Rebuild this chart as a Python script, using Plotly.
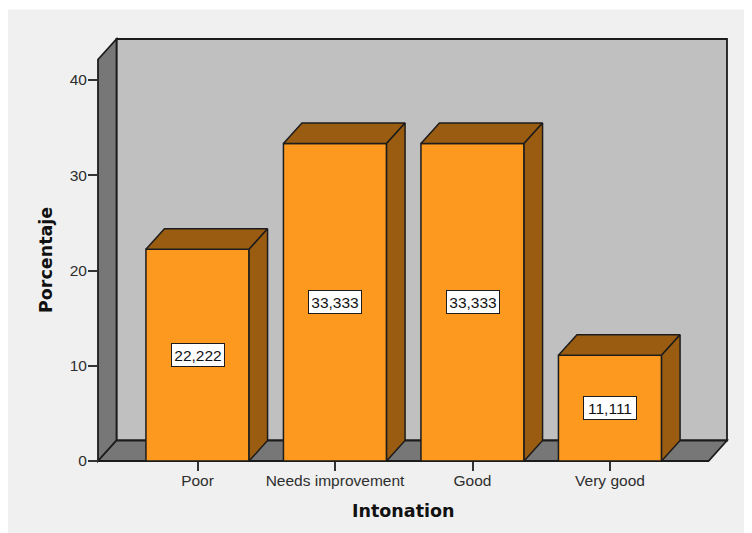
import plotly.graph_objects as go

categories = ["Poor", "Needs improvement", "Good", "Very good"]
percentages = [22.222, 33.333, 33.333, 11.111]
y_ticks = [0, 10, 20, 30, 40]
x_title = "Intonation"
y_title = "Porcentaje"

OFF = 8                          # page margin of the browser body
W, H = 752 - OFF, 533 - OFF
PAD = 3
X0_PX, X1_PX = 98 - OFF, 727 - OFF
Y0_PX, Y1_PX = 461 - OFF, 39 - OFF
UX, UY = 137.5, 9.525            # px per category / per percent
CX_PX = 197.5 - OFF
BAR_W = 0.75
DX, DY = 18.5 / UX, 20.5 / UY    # depth offset in data units
FONT = "Liberation Sans"
INK = "#2e2e2e"
EDGE = "#1c1c1c"

xmin = (X0_PX - CX_PX) / UX
xmax = (X1_PX - CX_PX) / UX
ymax = (Y0_PX - Y1_PX) / UY
x = list(range(len(categories)))

fig = go.Figure()

def poly(px, py, fill, lw=1.6):
    path = "M " + " L ".join(f"{a},{b}" for a, b in zip(px, py)) + " Z"
    return dict(type="path", path=path, xref="x", yref="y", layer="below",
                fillcolor=fill, line=dict(color=EDGE, width=lw))

shapes = [dict(type="rect", xref="paper", yref="paper", x0=0, x1=1, y0=0, y1=1 - 1.5 / H,
               fillcolor="#f0f0f0", line=dict(width=0), layer="below")]
shapes.append(poly([xmin + DX, xmax, xmax, xmin + DX], [DY, DY, ymax, ymax], "#c0c0c0", 1.8))
shapes.append(poly([xmin, xmin + DX, xmin + DX, xmin], [0, DY, ymax, ymax - DY], "#777777", 1.8))
shapes.append(poly([xmin, xmin + DX, xmax, xmax - DX], [0, DY, DY, 0], "#777777", 1.8))

fig.add_trace(go.Bar(x=x, y=percentages, width=BAR_W, marker=dict(color="#fc991e", line=dict(color=EDGE, width=1.5)),
                     hoverinfo="skip", showlegend=False))

for i, v in zip(x, percentages):
    l, r = i - BAR_W / 2, i + BAR_W / 2
    fig.add_trace(go.Scatter(x=[l, l + DX, r + DX, r, l], y=[v, v + DY, v + DY, v, v], mode="lines",
                             fill="toself", fillcolor="#9a5c10", line=dict(color=EDGE, width=1.5),
                             hoverinfo="skip", showlegend=False))
    fig.add_trace(go.Scatter(x=[r, r + DX, r + DX, r, r], y=[v, v + DY, DY, 0, v], mode="lines",
                             fill="toself", fillcolor="#9a5c10", line=dict(color=EDGE, width=1.5),
                             hoverinfo="skip", showlegend=False))

annotations = [
    dict(x=i, y=v / 2, xref="x", yref="y", text=f"{v:.3f}".replace(".", ","), showarrow=False,
         bgcolor="white", bordercolor=EDGE, borderwidth=1, width=52, height=22, borderpad=0,
         font=dict(family=FONT, size=15.5, color="#111111"))
    for i, v in zip(x, percentages)
]
annotations.append(dict(x=(403 - OFF) / W, y=1 - (511 - OFF) / H, xref="paper", yref="paper", text=f"<b>{x_title}</b>",
                        xanchor="center", yanchor="middle", showarrow=False,
                        font=dict(family="DejaVu Sans", size=17.5, color="#111111")))
annotations.append(dict(x=(46 - OFF) / W, y=1 - (260 - OFF) / H, xref="paper", yref="paper", text=f"<b>{y_title}</b>",
                        xanchor="center", yanchor="middle", textangle=-90, showarrow=False,
                        font=dict(family="DejaVu Sans", size=17.5, color="#111111")))

fig.update_layout(
    width=W, height=H, margin=dict(l=0, r=0, t=0, b=0), paper_bgcolor="white", plot_bgcolor="rgba(0,0,0,0)",
    shapes=shapes, annotations=annotations, showlegend=False, barmode="overlay",
    xaxis=dict(domain=[(X0_PX - PAD) / W, (X1_PX + PAD) / W], range=[xmin - PAD / UX, xmax + PAD / UX],
               anchor="free", position=1 - Y0_PX / H, tickvals=x, ticktext=categories, ticks="outside",
               automargin=False, ticklen=9, tickwidth=1.5, tickcolor="#333333", showgrid=False, zeroline=False,
               showline=False, ticklabelstandoff=-4, tickfont=dict(family=FONT, size=15.5, color=INK)),
    yaxis=dict(domain=[1 - (Y0_PX + PAD) / H, 1 - (Y1_PX - PAD) / H], range=[-PAD / UY, ymax + PAD / UY],
               anchor="free", position=X0_PX / W, tickvals=y_ticks, ticks="outside",
               automargin=False, ticklen=10, tickwidth=1.5, tickcolor="#333333", showgrid=False, zeroline=False,
               showline=False, ticklabelstandoff=-2, tickfont=dict(family=FONT, size=15.5, color=INK)),
)

fig.write_html("out.html")
